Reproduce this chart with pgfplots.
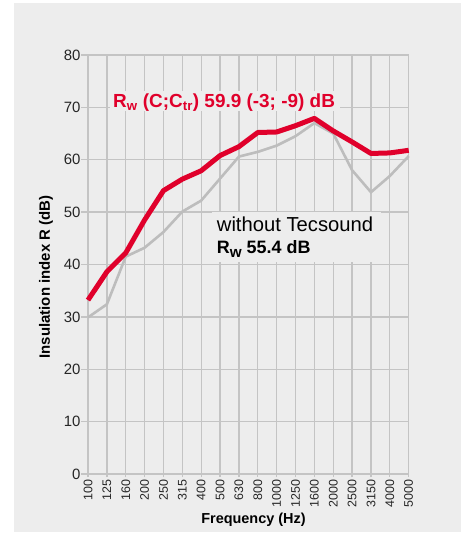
\documentclass[border=0pt]{standalone}
\usepackage{fontspec}
\setmainfont{Liberation Sans}
\usepackage{pgfplots}
\pgfplotsset{compat=1.18}
\definecolor{panel}{HTML}{EDEDED}
\definecolor{gridc}{HTML}{C4C4C4}
\definecolor{redc}{HTML}{E0002B}
\definecolor{grayc}{HTML}{BDBDBD}
\newcommand{\sub}[1]{\raisebox{-0.18em}{\scalebox{0.85}{#1}}}
\begin{document}
\begin{tikzpicture}[x=1bp,y=1bp]
\path[use as bounding box] (0,0) rectangle (461,541);
\fill[white] (0,0) rectangle (461,541);
\fill[panel] (14,9) rectangle (461,538);
\begin{axis}[
  at={(88bp,67bp)}, anchor=south west,
  scale only axis, width=320.7bp, height=419bp,
  xmin=0, xmax=17, ymin=0, ymax=80,
  xtick={0,...,17},
  xticklabels={100,125,160,200,250,315,400,500,630,800,1000,1250,1600,2000,2500,3150,4000,5000},
  ytick={0,10,...,80},
  grid=major, major grid style={gridc, line width=1.3bp},
  axis line style={draw=none},
  tick pos=left, tick align=outside,
  x tick style={gridc, line width=1.3bp, /pgfplots/major tick length=3.5bp},
  y tick style={gridc, line width=1.3bp, /pgfplots/major tick length=7bp},
  /pgf/number format/assume math mode=true,
  x tick label style={rotate=90, anchor=east, font=\fontsize{12.5}{12.5}\selectfont, text=black!85, inner sep=1.5bp},
  y tick label style={font=\fontsize{15}{15}\selectfont, text=black!85, inner sep=3bp},
  clip=false,
]
\addplot[grayc, line width=2.6bp] coordinates {
(0,29.9) (1,32.4) (2,41.5) (3,43.2) (4,46.2) (5,50.1) (6,52.2) (7,56.4) (8,60.6)
(9,61.5) (10,62.7) (11,64.5) (12,67.0) (13,65.0) (14,58.0) (15,53.8) (16,56.9) (17,60.7)};
\addplot[redc, line width=5bp, line join=round] coordinates {
(0,33.2) (1,38.6) (2,42.2) (3,48.5) (4,54.1) (5,56.3) (6,57.9) (7,60.8) (8,62.5)
(9,65.2) (10,65.3) (11,66.5) (12,67.9) (13,65.5) (14,63.4) (15,61.2) (16,61.3) (17,61.8)};
\end{axis}
\fill[panel] (110,430) rectangle (340,450);
\node[anchor=base west, inner sep=0, text=redc, font=\fontsize{19}{19}\selectfont\bfseries] at (113,433)
  {R\textsubscript{w} (C;C\textsubscript{tr}) 59.9 (-3; -9) dB};
\fill[panel] (212,279) rectangle (381,329);
\node[anchor=base west, inner sep=0, font=\fontsize{20.3}{20.3}\selectfont] at (216.7,309) {without Tecsound};
\node[anchor=base west, inner sep=0, font=\fontsize{18}{18}\selectfont\bfseries] at (216.7,287) {R\sub{w} 55.4 dB};
\node[font=\fontsize{14.5}{14.5}\selectfont\bfseries] at (253.5,21) {Frequency (Hz)};
\node[rotate=90, font=\fontsize{15}{15}\selectfont\bfseries] at (46,264) {Insulation index R (dB)};
\end{tikzpicture}
\end{document}
